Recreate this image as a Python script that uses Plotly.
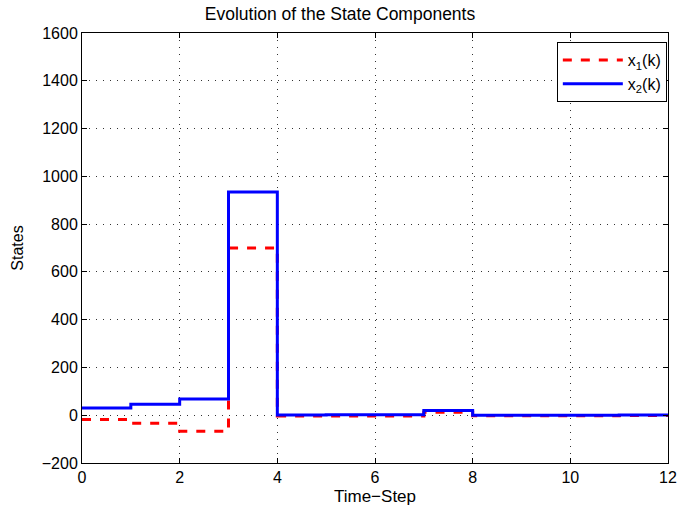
import plotly.graph_objects as go

k = list(range(13))
x1 = [-18, -34, -67, 700, -3, -3, -3, 12, -2, -2, -2, -1, -1]
x2 = [30, 46, 68, 934, 1, 2, 2, 20, 0, 0, 0, 1, 1]

font = "Liberation Sans, Arial, Helvetica, sans-serif"

fig = go.Figure()
fig.add_trace(go.Scatter(x=k, y=x1, mode="lines", line_shape="hv",
                         name="x<sub>1</sub>(k)",
                         line=dict(color="#ff0000", width=3, dash="dash")))
fig.add_trace(go.Scatter(x=k, y=x2, mode="lines", line_shape="hv",
                         name="x<sub>2</sub>(k)",
                         line=dict(color="#0000ff", width=3)))

axis_common = dict(showline=True, linecolor="black", linewidth=1, mirror="ticks",
                   ticks="inside", ticklen=5, tickcolor="black", automargin=False,
                   showgrid=True, gridcolor="#333333", griddash="1px,6px", gridwidth=1,
                   zeroline=False, tickfont=dict(size=16, color="black", family=font))

fig.update_layout(
    width=680, height=512,
    paper_bgcolor="white", plot_bgcolor="white",
    margin=dict(l=82, r=12, t=33, b=49),
    title=dict(text="Evolution of the State Components", x=0.5, xanchor="center",
               y=0.972, yanchor="middle", font=dict(size=17.5, family=font, color="black")),
    font=dict(family=font, color="black"),
    xaxis=dict(range=[0, 12], tickvals=[0, 2, 4, 6, 8, 10, 12],
               title=dict(text="Time−Step", font=dict(size=17, family=font), standoff=4),
               **axis_common),
    yaxis=dict(range=[-200, 1600], tickvals=list(range(-200, 1601, 200)),
               title=dict(text="States", font=dict(size=16, family=font), standoff=14),
               **axis_common),
    legend=dict(x=0.998, xanchor="right", y=0.979, yanchor="top",
                bgcolor="white", bordercolor="black", borderwidth=1,
                font=dict(size=16, family=font, color="black"),
                itemwidth=60, tracegroupgap=0),
    showlegend=True,
)

fig.write_html("out.html")
